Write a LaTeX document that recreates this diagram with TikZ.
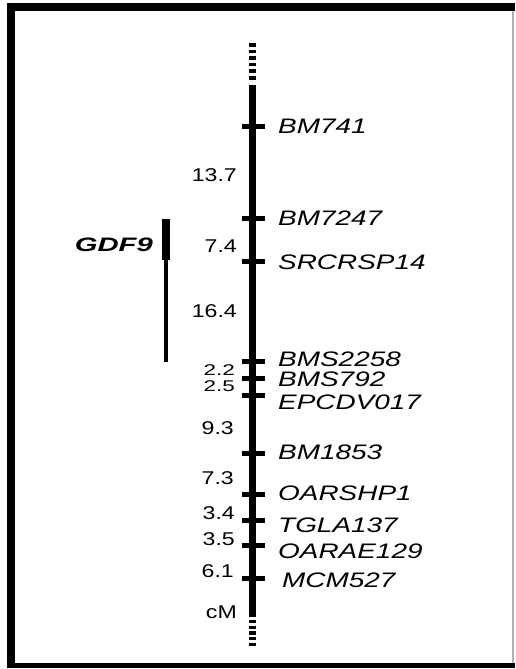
\documentclass[tikz,border=0pt]{standalone}
\usepackage{fontspec}
\setmainfont{Liberation Sans}
\newfontfamily\lblfont[FakeStretch=1.33]{Liberation Sans}
\newfontfamily\numfont[FakeStretch=1.25]{Liberation Sans}
\newfontfamily\smnumfont[FakeStretch=1.45]{Liberation Sans}
\newfontfamily\gfont[FakeStretch=1.5]{Liberation Sans}
\tikzset{
  lbl/.style={anchor=west,inner sep=0pt,font=\lblfont\itshape\fontsize{21}{21}\selectfont},
  num/.style={anchor=east,inner sep=0pt,font=\numfont\fontsize{18.5}{18.5}\selectfont},
  smnum/.style={anchor=east,inner sep=0pt,font=\smnumfont\fontsize{15.5}{15.5}\selectfont},
  tick/.style={line width=5pt},
  chrom/.style={line width=7pt}
}
\begin{document}
\begin{tikzpicture}[x=1pt,y=-1pt]
\useasboundingbox (0,0) rectangle (515,669);
% frame
\fill[black] (7,3) rectangle (515,668);
\fill[white] (15,11) rectangle (515,663);
\draw[gray!60,line width=1.2pt] (513,11) -- (513,663);
% chromosome
\coordinate (ctop) at (252.5,85);
\coordinate (cbot) at (252.5,617);
\draw[chrom] (ctop) -- (cbot);
\coordinate (dtop) at (252.5,43);
\coordinate (dtopend) at (252.5,82);
\draw[chrom,dash pattern=on 3.6pt off 3pt] (dtop) -- (dtopend);
\coordinate (dbot) at (252.5,620);
\coordinate (dbotend) at (252.5,648);
\draw[chrom,dash pattern=on 3.2pt off 2.5pt] (dbot) -- (dbotend);
% ticks
\foreach \n/\y in {t1/126,t2/218,t3/261,t4/361,t5/378,t6/395,t7/453,t8/494,t9/520,t10/545,t11/578}{
  \coordinate (\n a) at (242,\y);
  \coordinate (\n b) at (265,\y);
  \draw[tick] (\n a) -- (\n b);
}
% marker labels
\node[lbl] (l1) at (278,126) {BM741};
\node[lbl] (l2) at (278,218.5) {BM7247};
\node[lbl] (l3) at (278,262) {SRCRSP14};
\node[lbl] (l4) at (278,359.5) {BMS2258};
\node[lbl] (l5) at (278,379) {BMS792};
\node[lbl] (l6) at (278,402) {EPCDV017};
\node[lbl] (l7) at (278,452) {BM1853};
\node[lbl] (l8) at (278,493.5) {OARSHP1};
\node[lbl] (l9) at (278,525) {TGLA137};
\node[lbl] (l10) at (278,551) {OARAE129};
\node[lbl] (l11) at (282,580) {MCM527};
% distances
\node[num] (n1) at (237,175.5) {13.7};
\node[num] (n2) at (237,246) {7.4};
\node[num] (n3) at (237,311.5) {16.4};
\node[smnum] (n4) at (235,370) {2.2};
\node[smnum] (n5) at (235,386.5) {2.5};
\node[num] (n6) at (234,428) {9.3};
\node[num] (n7) at (234,478) {7.3};
\node[num] (n8) at (235,513) {3.4};
\node[num] (n9) at (235,539) {3.5};
\node[num] (n10) at (234,571) {6.1};
\node[num] (n11) at (237,612) {cM};
% GDF9 QTL bar
\coordinate (g1) at (166,219);
\coordinate (g2) at (166,260);
\coordinate (g3) at (166,362);
\draw[line width=8.5pt] (g1) -- (g2);
\draw[line width=4.5pt] (g2) -- (g3);
\node[anchor=east,inner sep=0pt,font=\gfont\bfseries\itshape\fontsize{19.5}{19.5}\selectfont] (gdf) at (153,245) {GDF9};
\end{tikzpicture}
\end{document}
